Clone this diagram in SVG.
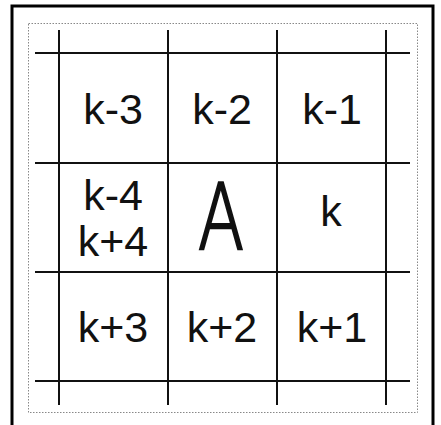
<svg xmlns="http://www.w3.org/2000/svg" width="441" height="425" viewBox="0 0 441 425">
<style>
.frame{fill:none;stroke:#000;stroke-width:3}
.dot{fill:none;stroke:#888;stroke-width:1;stroke-dasharray:1.5 1.5}
.grid line{stroke:#111;stroke-width:2}
text{font-family:"Liberation Sans",Arial,sans-serif;fill:#111;text-anchor:middle;font-size:43px}
.big{font-family:"DejaVu Sans",sans-serif;font-weight:200;stroke:#111;stroke-width:2.5;font-size:90px}
</style>
<rect width="441" height="425" fill="#fff"/>
<rect class="frame" x="12" y="6" width="421" height="425"/>
<rect class="dot" x="28.5" y="23.5" width="389" height="389"/>
<g id="connectors" class="grid">
<line x1="59" y1="30" x2="59" y2="405"/>
<line x1="168" y1="30" x2="168" y2="405"/>
<line x1="277" y1="30" x2="277" y2="405"/>
<line x1="386" y1="30" x2="386" y2="405"/>
<line x1="35" y1="53" x2="410" y2="53"/>
<line x1="35" y1="163" x2="410" y2="163"/>
<line x1="35" y1="272" x2="410" y2="272"/>
<line x1="35" y1="381" x2="410" y2="381"/>
</g>
<g id="n-k-3"><text x="113" y="124">k-3</text></g>
<g id="n-k-2"><text x="222" y="124">k-2</text></g>
<g id="n-k-1"><text x="332" y="124">k-1</text></g>
<g id="n-k-4-k+4"><text x="113" y="210">k-4</text><text x="113" y="256">k+4</text></g>
<g id="n-A"><text class="big" x="221" y="249" textLength="46" lengthAdjust="spacingAndGlyphs">A</text></g>
<g id="n-k"><text x="331" y="226">k</text></g>
<g id="n-k+3"><text x="113" y="342">k+3</text></g>
<g id="n-k+2"><text x="222" y="342">k+2</text></g>
<g id="n-k+1"><text x="332" y="342">k+1</text></g>
</svg>
